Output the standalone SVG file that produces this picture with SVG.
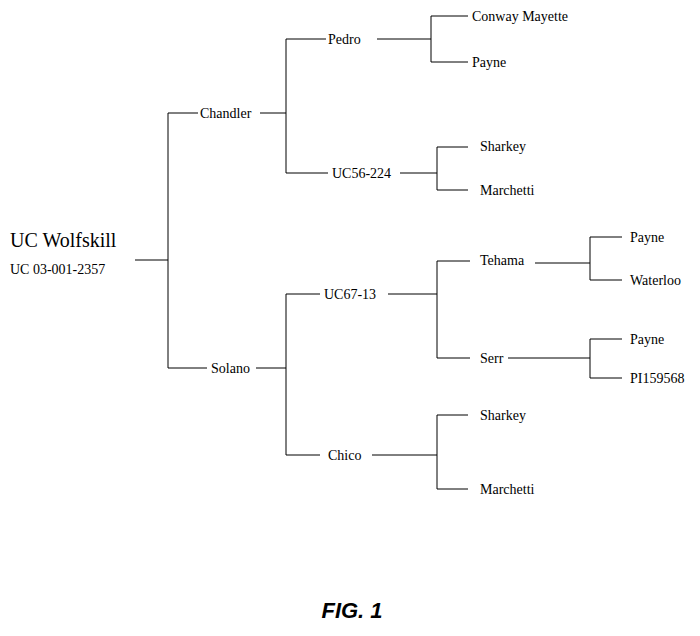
<svg xmlns="http://www.w3.org/2000/svg" width="700" height="636" viewBox="0 0 700 636">
<style>
text{font-family:"Liberation Serif",serif;font-size:14px;fill:#000}
.c path{stroke:#000;stroke-width:1;fill:none}
</style>
<rect width="700" height="636" fill="#fff"/>
<g class="c">
<path d="M135 260H168M168 113V368M168 113H198M168 368H207"/>
<path d="M260 113H286M286 39V173M286 39H326M286 173H328"/>
<path d="M377 39H431M431 16V62M431 16H468M431 62H468"/>
<path d="M400 173H437M437 147V190M437 147H468M437 190H468"/>
<path d="M256 368H286M286 294V455M286 294H320M286 455H320"/>
<path d="M388 294H437M437 261V358M437 261H470M437 358H470"/>
<path d="M535 263H590M590 237V280M590 237H622M590 280H622"/>
<path d="M508 358H590M590 339V378M590 339H622M590 378H622"/>
<path d="M372 455H437M437 415V489M437 415H468M437 489H468"/>
</g>
<g id="root"><text x="10" y="247" style="font-size:20px">UC Wolfskill</text><text x="10" y="274">UC 03-001-2357</text></g>
<g id="chandler"><text x="200" y="118">Chandler</text></g>
<g id="pedro"><text x="328" y="44">Pedro</text></g>
<g id="conway"><text x="472" y="21">Conway Mayette</text></g>
<g id="payne1"><text x="472" y="67">Payne</text></g>
<g id="uc56"><text x="332" y="178">UC56-224</text></g>
<g id="sharkey1"><text x="480" y="151">Sharkey</text></g>
<g id="marchetti1"><text x="480" y="195">Marchetti</text></g>
<g id="solano"><text x="211" y="373">Solano</text></g>
<g id="uc67"><text x="324" y="299">UC67-13</text></g>
<g id="tehama"><text x="480" y="265">Tehama</text></g>
<g id="payne2"><text x="630" y="242">Payne</text></g>
<g id="waterloo"><text x="630" y="285">Waterloo</text></g>
<g id="serr"><text x="480" y="363">Serr</text></g>
<g id="payne3"><text x="630" y="344">Payne</text></g>
<g id="pi"><text x="630" y="383">PI159568</text></g>
<g id="chico"><text x="328" y="460">Chico</text></g>
<g id="sharkey2"><text x="480" y="420">Sharkey</text></g>
<g id="marchetti2"><text x="480" y="494">Marchetti</text></g>
<text x="352" y="618" text-anchor="middle" style="font-family:'Liberation Sans',sans-serif;font-size:22px;font-weight:bold;font-style:italic">FIG. 1</text>
</svg>
